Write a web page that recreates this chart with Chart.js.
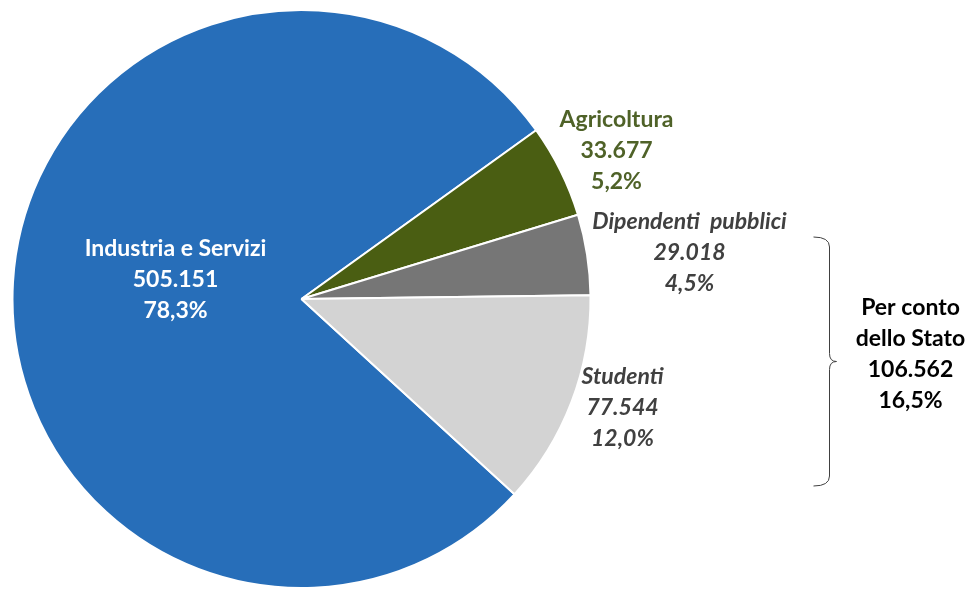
<!DOCTYPE html>
<html>
<head>
<meta charset="utf-8">
<script src="https://cdn.jsdelivr.net/npm/chart.js@4/dist/chart.umd.min.js"></script>
<style>
  html, body { margin: 0; padding: 0; background: #fff; }
  #wrap { width: 980px; height: 589px; position: relative; }
</style>
</head>
<body>
<div id="wrap"><canvas id="c"></canvas></div>
<script>
// data
const categories = ['Industria e Servizi', 'Agricoltura', 'Dipendenti  pubblici', 'Studenti'];
const values = [505151, 33677, 29018, 77544];
const colors = ['#276EB9', '#4A5E12', '#767676', '#D3D3D3'];
const groupTitle = ['Per conto', 'dello Stato'];
const groupMembers = [2, 3];

const total = values.reduce((a, b) => a + b, 0);

function fmtInt(v) {
  return String(v).replace(/\B(?=(\d{3})+(?!\d))/g, '.');
}
function fmtPct(v) {
  return (v / total * 100).toFixed(1).replace('.', ',') + '%';
}

const FONT = 'Lato, "Noto Sans", sans-serif';
const FSIZE = 23;

// label styling per slice; dx/dy are offsets of the label centre from the pie centre
const labelStyle = [
  { color: '#FFFFFF', italic: false, dx: -126, dy: -19 },
  { color: '#4F6228', italic: false, dx: 315, dy: -148 },
  { color: '#404040', italic: true, dx: 388, dy: -46 },
  { color: '#404040', italic: true, dx: 321, dy: 109 },
];

const labelsPlugin = {
  id: 'sliceLabels',
  afterDatasetsDraw(chart) {
    const ctx = chart.ctx;
    const meta = chart.getDatasetMeta(0);
    const arc0 = meta.data[0];
    const cx = arc0.x, cy = arc0.y, r = arc0.outerRadius;
    const lh = 31;
    ctx.save();
    ctx.textAlign = 'center';
    ctx.textBaseline = 'middle';
    categories.forEach((name, i) => {
      const s = labelStyle[i];
      ctx.fillStyle = s.color;
      ctx.font = (s.italic ? 'italic ' : '') + 'bold ' + FSIZE + 'px ' + FONT;
      const lines = [name, fmtInt(values[i]), fmtPct(values[i])];
      const x = cx + s.dx, y = cy + s.dy;
      lines.forEach((t, k) => ctx.fillText(t, x, y + (k - 1) * lh));
    });

    // brace grouping the state-paid slices
    const bx = cx + r + 239, top = cy - 62, bot = cy + 187, mid = (top + bot) / 2;
    ctx.strokeStyle = '#404040';
    ctx.lineWidth = 1;
    ctx.beginPath();
    ctx.moveTo(bx - 16, top);
    ctx.quadraticCurveTo(bx, top, bx, top + 10);
    ctx.lineTo(bx, mid - 8);
    ctx.quadraticCurveTo(bx, mid, bx + 7, mid);
    ctx.quadraticCurveTo(bx, mid, bx, mid + 8);
    ctx.lineTo(bx, bot - 10);
    ctx.quadraticCurveTo(bx, bot, bx - 16, bot);
    ctx.stroke();

    const gsum = groupMembers.reduce((a, i) => a + values[i], 0);
    ctx.fillStyle = '#000000';
    ctx.font = 'bold ' + FSIZE + 'px ' + FONT;
    const glines = [...groupTitle, fmtInt(gsum), fmtPct(gsum)];
    const gx = bx + 81, gy = mid - 54;
    glines.forEach((t, k) => ctx.fillText(t, gx, gy + k * lh));
    ctx.restore();
  }
};

new Chart(document.getElementById('c'), {
  type: 'pie',
  data: {
    labels: categories,
    datasets: [{
      data: values,
      backgroundColor: colors,
      borderColor: '#FFFFFF',
      borderWidth: 2,
    }]
  },
  options: {
    responsive: true,
    maintainAspectRatio: false,
    animation: false,
    rotation: 132.5,
    layout: { padding: { left: 10, right: 387, top: 9, bottom: -3 } },
    plugins: {
      legend: { display: false },
      tooltip: { enabled: false },
    },
  },
  plugins: [labelsPlugin],
});
</script>
</body>
</html>
